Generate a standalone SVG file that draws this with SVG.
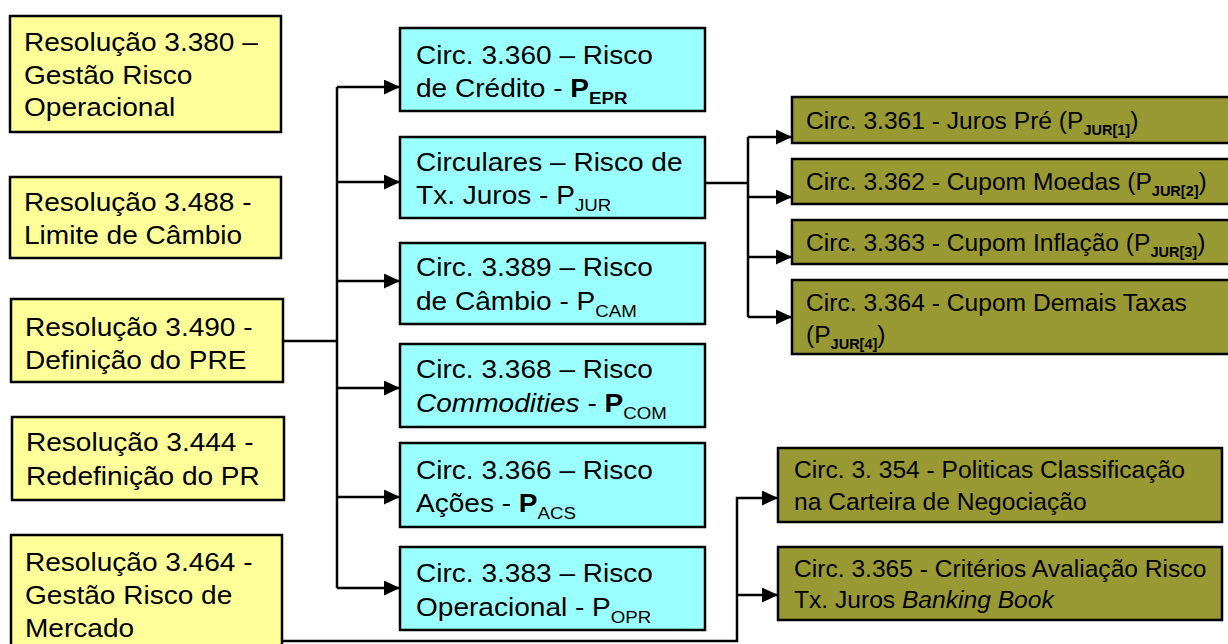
<svg xmlns="http://www.w3.org/2000/svg" width="1228" height="644" viewBox="0 0 1228 644">
  <style>
    .box { stroke: #000; stroke-width: 2.5; }
    .res { fill: #FFFF99; }
    .circ { fill: #99FFFF; }
    .sub-circ { fill: #999933; }
    text { font-family: "Liberation Sans", Arial, sans-serif; fill: #000; }
    .big { font-size: 25.5px; }
    .small { font-size: 24.6px; }
    .sb { font-size: 17px; }
    .sbo { font-size: 14.5px; font-weight: bold; }
    .b { font-weight: bold; }
    .i { font-style: italic; }
    .wire { fill: none; stroke: #000; stroke-width: 2.5; }
  </style>
  <defs>
    <marker id="arrow" markerUnits="userSpaceOnUse" markerWidth="17" markerHeight="15" refX="16" refY="7.5" orient="auto">
      <path d="M0,0 L16,7.5 L0,15 Z" fill="#000"/>
    </marker>
  </defs>

  <rect width="1228" height="644" fill="#fff"/>

  <!-- connectors -->
  <g id="connectors">
    <path class="wire" d="M283,341 H337"/>
    <path class="wire" d="M337,87 V588"/>
    <path class="wire" d="M337,87 H400" marker-end="url(#arrow)"/>
    <path class="wire" d="M337,182 H400" marker-end="url(#arrow)"/>
    <path class="wire" d="M337,281 H400" marker-end="url(#arrow)"/>
    <path class="wire" d="M337,388 H400" marker-end="url(#arrow)" stroke-width="1.8"/>
    <path class="wire" d="M337,497 H400" marker-end="url(#arrow)"/>
    <path class="wire" d="M337,588 H400" marker-end="url(#arrow)"/>

    <path class="wire" d="M705,183 H748"/>
    <path class="wire" d="M748,137 V317"/>
    <path class="wire" d="M748,137 H792" marker-end="url(#arrow)"/>
    <path class="wire" d="M748,197 H792" marker-end="url(#arrow)"/>
    <path class="wire" d="M748,257 H792" marker-end="url(#arrow)"/>
    <path class="wire" d="M748,317 H792" marker-end="url(#arrow)"/>

    <path class="wire" d="M282,641 H737 V498 H778" marker-end="url(#arrow)"/>
    <path class="wire" d="M737,595 H778" marker-end="url(#arrow)" stroke-width="1.8"/>
  </g>

  <!-- resolutions -->
  <g id="res-3380">
    <rect class="box res" x="10" y="16" width="271" height="116"/>
    <text class="big" transform="translate(24,51) scale(1.1,1)"><tspan x="0" y="0">Resolução 3.380 –</tspan><tspan x="0" y="33">Gestão Risco</tspan><tspan x="0" y="65">Operacional</tspan></text>
  </g>
  <g id="res-3488">
    <rect class="box res" x="10" y="177" width="271" height="81"/>
    <text class="big" transform="translate(24,211) scale(1.1,1)"><tspan x="0" y="0">Resolução 3.488 -</tspan><tspan x="0" y="33">Limite de Câmbio</tspan></text>
  </g>
  <g id="res-3490">
    <rect class="box res" x="11" y="299" width="272" height="83"/>
    <text class="big" transform="translate(25,336) scale(1.1,1)"><tspan x="0" y="0">Resolução 3.490 -</tspan><tspan x="0" y="33">Definição do PRE</tspan></text>
  </g>
  <g id="res-3444">
    <rect class="box res" x="12" y="417" width="272" height="83"/>
    <text class="big" transform="translate(26,451) scale(1.1,1)"><tspan x="0" y="0">Resolução 3.444 -</tspan><tspan x="0" y="34">Redefinição do PR</tspan></text>
  </g>
  <g id="res-3464">
    <rect class="box res" x="11" y="535" width="271" height="125"/>
    <text class="big" transform="translate(25,571) scale(1.1,1)"><tspan x="0" y="0">Resolução 3.464 -</tspan><tspan x="0" y="33">Gestão Risco de</tspan><tspan x="0" y="66">Mercado</tspan></text>
  </g>

  <!-- circulars -->
  <g id="circ-3360">
    <rect class="box circ" x="400" y="28" width="305" height="83"/>
    <text class="big" transform="translate(416,64) scale(1.1,1)"><tspan x="0" y="0">Circ. 3.360 – Risco</tspan><tspan x="0" y="33">de Crédito - </tspan><tspan class="b">P</tspan><tspan class="sb b" dy="7">EPR</tspan></text>
  </g>
  <g id="circ-juros">
    <rect class="box circ" x="400" y="137" width="305" height="81"/>
    <text class="big" transform="translate(416,171) scale(1.1,1)"><tspan x="0" y="0">Circulares – Risco de</tspan><tspan x="0" y="33">Tx. Juros - P</tspan><tspan class="sb" dy="7">JUR</tspan></text>
  </g>
  <g id="circ-3389">
    <rect class="box circ" x="400" y="243" width="305" height="81"/>
    <text class="big" transform="translate(416,276) scale(1.1,1)"><tspan x="0" y="0">Circ. 3.389 – Risco</tspan><tspan x="0" y="34">de Câmbio - P</tspan><tspan class="sb" dy="7">CAM</tspan></text>
  </g>
  <g id="circ-3368">
    <rect class="box circ" x="400" y="344" width="305" height="83"/>
    <text class="big" transform="translate(416,378) scale(1.1,1)"><tspan x="0" y="0">Circ. 3.368 – Risco</tspan><tspan x="0" y="34" class="i">Commodities</tspan><tspan> - </tspan><tspan class="b">P</tspan><tspan class="sb" dy="7">COM</tspan></text>
  </g>
  <g id="circ-3366">
    <rect class="box circ" x="400" y="443" width="305" height="84"/>
    <text class="big" transform="translate(416,479) scale(1.1,1)"><tspan x="0" y="0">Circ. 3.366 – Risco</tspan><tspan x="0" y="33">Ações - </tspan><tspan class="b">P</tspan><tspan class="sb" dy="7">ACS</tspan></text>
  </g>
  <g id="circ-3383">
    <rect class="box circ" x="400" y="547" width="305" height="83"/>
    <text class="big" transform="translate(416,582) scale(1.1,1)"><tspan x="0" y="0">Circ. 3.383 – Risco</tspan><tspan x="0" y="34">Operacional - P</tspan><tspan class="sb" dy="7">OPR</tspan></text>
  </g>

  <!-- interest-rate breakdown -->
  <g id="circ-3361">
    <rect class="box sub-circ" x="792" y="97" width="450" height="46"/>
    <text class="small" x="806" y="129">Circ. 3.361 - Juros Pré (P<tspan class="sbo" dy="6">JUR[1]</tspan><tspan dy="-6">)</tspan></text>
  </g>
  <g id="circ-3362">
    <rect class="box sub-circ" x="792" y="159" width="450" height="45"/>
    <text class="small" x="806" y="190">Circ. 3.362 - Cupom Moedas (P<tspan class="sbo" dy="6">JUR[2]</tspan><tspan dy="-6">)</tspan></text>
  </g>
  <g id="circ-3363">
    <rect class="box sub-circ" x="792" y="220" width="450" height="44"/>
    <text class="small" x="806" y="251">Circ. 3.363 - Cupom Inflação (P<tspan class="sbo" dy="6">JUR[3]</tspan><tspan dy="-6">)</tspan></text>
  </g>
  <g id="circ-3364">
    <rect class="box sub-circ" x="792" y="280" width="450" height="74"/>
    <text class="small" x="806" y="311">Circ. 3.364 - Cupom Demais Taxas<tspan x="806" y="343">(P</tspan><tspan class="sbo" dy="6">JUR[4]</tspan><tspan dy="-6">)</tspan></text>
  </g>

  <!-- trading-book notices -->
  <g id="circ-3354">
    <rect class="box sub-circ" x="778" y="448" width="444" height="74"/>
    <text class="small" x="794" y="478">Circ. 3. 354 - Politicas Classificação<tspan x="794" y="510">na Carteira de Negociação</tspan></text>
  </g>
  <g id="circ-3365">
    <rect class="box sub-circ" x="778" y="547" width="444" height="73"/>
    <text class="small" x="794" y="577">Circ. 3.365 - Critérios Avaliação Risco<tspan x="794" y="608">Tx. Juros </tspan><tspan class="i">Banking Book</tspan></text>
  </g>
</svg>
